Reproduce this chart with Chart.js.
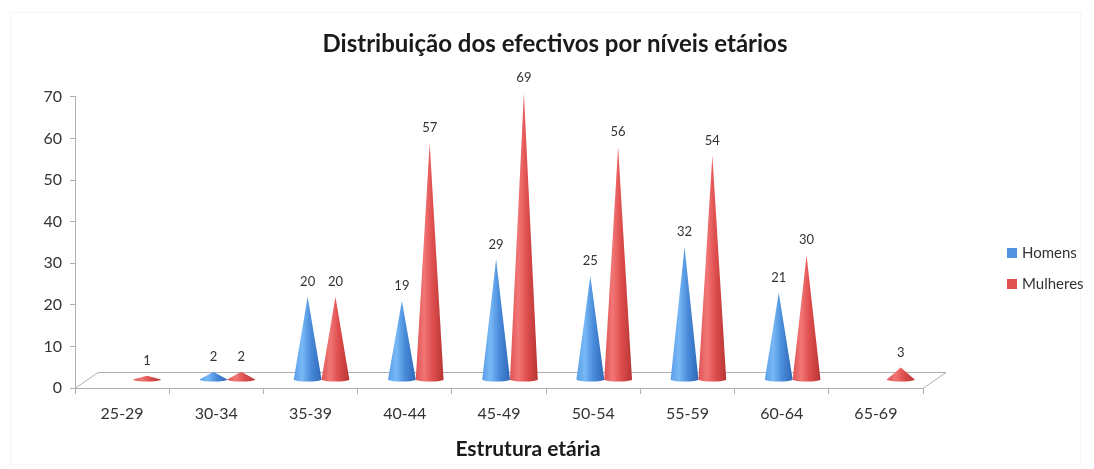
<!DOCTYPE html>
<html>
<head>
<meta charset="utf-8">
<script src="https://cdn.jsdelivr.net/npm/chart.js@4/dist/chart.umd.min.js"></script>
<style>
  html, body { margin: 0; padding: 0; background: #fff; }
  #wrap { position: relative; width: 1094px; height: 469px; }
</style>
</head>
<body>
<div id="wrap"><canvas id="c" width="1094" height="469"></canvas></div>
<script>
// Age groups and head counts
const ageGroups = ['25-29', '30-34', '35-39', '40-44', '45-49', '50-54', '55-59', '60-64', '65-69'];
const homens    = [null, 2, 20, 19, 29, 25, 32, 21, null];
const mulheres  = [1, 2, 20, 57, 69, 56, 54, 30, 3];
const yMax = 70;
const yStep = 10;

const seriesNames = ['Homens', 'Mulheres'];
const seriesColors = ['#4f93e0', '#e05252'];
const coneStops = [
  ['#5a9fe8', '#78b8f6', '#4a8ddb', '#2f68b8'],
  ['#de5454', '#f27676', '#df4f4f', '#b93434']
];

const FONT = 'Lato, "Open Sans", sans-serif';
const TEXT = '#333333';
const AXIS = '#b0b0b0';
// perspective offsets: floor back edge and the depth at which the cones stand
const FLOOR_DX = 23, FLOOR_DY = -16;
const CONE_DX = 11, CONE_DY = -8;

const framePlugin = {
  id: 'frame',
  beforeDraw(chart) {
    const ctx = chart.ctx;
    ctx.save();
    ctx.strokeStyle = '#f6f6f6';
    ctx.lineWidth = 1;
    ctx.strokeRect(10.5, 12.5, 1070, 452);
    ctx.restore();
  }
};

const floorPlugin = {
  id: 'floor',
  beforeDatasetsDraw(chart) {
    const {ctx, chartArea: a} = chart;
    ctx.save();
    ctx.strokeStyle = AXIS;
    ctx.lineWidth = 1;
    ctx.beginPath();
    ctx.moveTo(a.left, a.bottom + 0.5);
    ctx.lineTo(a.left + FLOOR_DX, a.bottom + FLOOR_DY + 0.5);
    ctx.lineTo(a.right + FLOOR_DX, a.bottom + FLOOR_DY + 0.5);
    ctx.lineTo(a.right, a.bottom + 0.5);
    ctx.stroke();
    ctx.restore();
  }
};

function drawCone(ctx, cx, tipY, baseY, rx, stops) {
  const ry = Math.min(3.8, rx * 0.14);
  const g = ctx.createLinearGradient(cx - rx, 0, cx + rx, 0);
  g.addColorStop(0, stops[0]);
  g.addColorStop(0.3, stops[1]);
  g.addColorStop(0.6, stops[2]);
  g.addColorStop(1, stops[3]);
  ctx.fillStyle = g;
  ctx.beginPath();
  ctx.moveTo(cx, Math.min(tipY, baseY - ry));
  ctx.lineTo(cx - rx, baseY);
  ctx.ellipse(cx, baseY, rx, ry, 0, Math.PI, 0, true);
  ctx.closePath();
  ctx.fill();
}

const conePlugin = {
  id: 'cones',
  afterDatasetsDraw(chart) {
    const ctx = chart.ctx;
    ctx.save();
    chart.data.datasets.forEach((ds, di) => {
      const meta = chart.getDatasetMeta(di);
      meta.data.forEach((el, i) => {
        const v = ds.data[i];
        if (v === null || v === undefined) return;
        const p = el.getProps(['x', 'y', 'base', 'width'], true);
        drawCone(ctx, p.x + CONE_DX, p.y + CONE_DY, p.base + CONE_DY, p.width / 2, coneStops[di]);
      });
    });
    // value labels above the cone tips
    ctx.fillStyle = TEXT;
    ctx.font = '13px ' + FONT;
    ctx.textAlign = 'center';
    ctx.textBaseline = 'middle';
    chart.data.datasets.forEach((ds, di) => {
      const meta = chart.getDatasetMeta(di);
      meta.data.forEach((el, i) => {
        const v = ds.data[i];
        if (v === null || v === undefined) return;
        const p = el.getProps(['x', 'y'], true);
        ctx.fillText(String(v), p.x + CONE_DX, p.y + CONE_DY - 15);
      });
    });
    ctx.restore();
  }
};

const sidePlugin = {
  id: 'sideText',
  afterDraw(chart) {
    const {ctx, chartArea: a} = chart;
    ctx.save();
    // axis title under the category labels
    ctx.fillStyle = '#1a1a1a';
    ctx.font = 'bold 21px ' + FONT;
    ctx.textAlign = 'center';
    ctx.textBaseline = 'middle';
    ctx.fillText('Estrutura etária', (a.left + a.right) / 2 + 29, 449);
    // legend
    ctx.font = '15px ' + FONT;
    ctx.textAlign = 'left';
    chart.data.datasets.forEach((ds, di) => {
      const y = 253 + di * 31;
      const x = a.right + 84;
      ctx.fillStyle = ds.backgroundColorLegend;
      ctx.fillRect(x, y - 5, 10, 10);
      ctx.fillStyle = TEXT;
      ctx.fillText(ds.label, x + 15, y);
    });
    ctx.restore();
  }
};

new Chart(document.getElementById('c'), {
  type: 'bar',
  data: {
    labels: ageGroups,
    datasets: [
      { label: seriesNames[0], data: homens, backgroundColor: 'rgba(0,0,0,0)', backgroundColorLegend: seriesColors[0], borderWidth: 0 },
      { label: seriesNames[1], data: mulheres, backgroundColor: 'rgba(0,0,0,0)', backgroundColorLegend: seriesColors[1], borderWidth: 0 }
    ]
  },
  options: {
    responsive: false,
    animation: false,
    devicePixelRatio: 1,
    categoryPercentage: 0.59,
    barPercentage: 1,
    layout: { padding: { left: 16, right: 0, top: 0, bottom: 0 } },
    plugins: {
      legend: { display: false },
      tooltip: { enabled: false },
      title: {
        display: true,
        text: 'Distribuição dos efectivos por níveis etários',
        color: '#1a1a1a',
        font: { family: FONT, size: 24, weight: 'bold', lineHeight: 1.2 },
        padding: { top: 30, bottom: 38 }
      }
    },
    scales: {
      x: {
        grid: { display: true, drawOnChartArea: false, drawTicks: true, tickLength: 6, color: AXIS, offset: true },
        border: { display: true, color: AXIS },
        ticks: { color: TEXT, font: { family: FONT, size: 16 }, padding: 10, maxRotation: 0 },
        afterFit(s) { s.height = 81; }
      },
      y: {
        min: 0,
        max: yMax,
        grid: { display: true, drawOnChartArea: false, drawTicks: true, tickLength: 5, color: AXIS },
        border: { display: true, color: AXIS },
        ticks: { stepSize: yStep, color: TEXT, font: { family: FONT, size: 16 }, padding: 8 },
        afterFit(s) { s.width = 59; }
      },
      side: {
        position: 'right',
        display: true,
        grid: { display: false },
        border: { display: false },
        ticks: { display: false },
        afterFit(s) { s.width = 171; }
      }
    }
  },
  plugins: [framePlugin, floorPlugin, conePlugin, sidePlugin]
});
</script>
</body>
</html>
